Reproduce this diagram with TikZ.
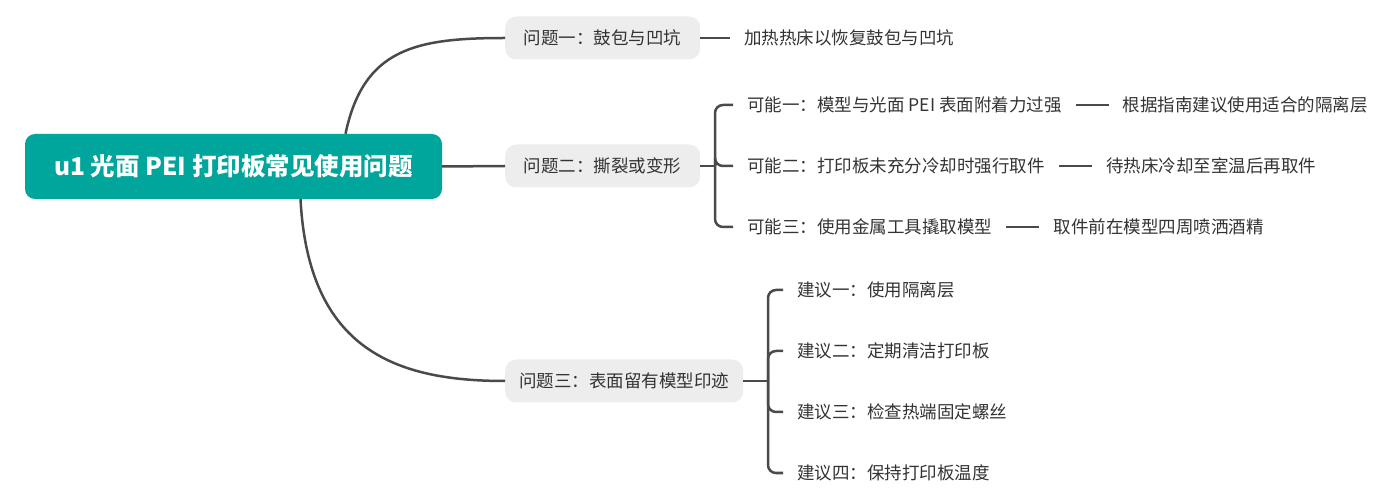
\documentclass[tikz,border=0pt]{standalone}
\usepackage{fontspec}
\setmainfont{Noto Sans CJK SC}
\usepackage{xcolor}
\usepackage{tikz}
\usetikzlibrary{positioning}
\definecolor{rootfill}{HTML}{00A59B}
\definecolor{probfill}{HTML}{EDEDED}
\definecolor{linkcol}{HTML}{4A4A4A}
\definecolor{textcol}{HTML}{333333}
\tikzset{root/.style={rectangle,rounded corners=10pt,fill=rootfill,text=white,font=\fontsize{24.5}{28}\selectfont\bfseries,minimum width=417pt,minimum height=65pt},
prob/.style={rectangle,rounded corners=11pt,fill=probfill,text=textcol,font=\fontsize{17.5}{21}\selectfont,minimum height=43pt,anchor=west},
leaf/.style={text=textcol,font=\fontsize{17.5}{21}\selectfont,inner xsep=14pt,anchor=west},
link/.style={draw=linkcol,line width=2.5pt}}

\begin{document}
\begin{tikzpicture}[x=1pt,y=-1pt]
        \useasboundingbox (0,0) rectangle (1382,502);
        \node[root] (r) at (233.5,166.5) {u1 光面 PEI 打印板常见使用问题};
        \node[prob,minimum width=195pt] (qa) at (505,38) {问题一：鼓包与凹坑};
        \node[prob,minimum width=195pt] (qb) at (505,166) {问题二：撕裂或变形};
        \node[prob,minimum width=238pt] (qc) at (505,381) {问题三：表面留有模型印迹};
        \node[leaf] (qa1) at (730,38) {加热热床以恢复鼓包与凹坑};
        \node[leaf] (qb1) at (733,105) {可能一：模型与光面 PEI 表面附着力过强};
        \node[leaf] (qb2) at (733,166) {可能二：打印板未充分冷却时强行取件};
        \node[leaf] (qb3) at (733,227) {可能三：使用金属工具撬取模型};
        \node[leaf,right=33pt of qb1] (sb1) {根据指南建议使用适合的隔离层};
        \node[leaf,right=33pt of qb2] (sb2) {待热床冷却至室温后再取件};
        \node[leaf,right=33pt of qb3] (sb3) {取件前在模型四周喷洒酒精};
        \node[leaf] (qc1) at (783,290) {建议一：使用隔离层};
        \node[leaf] (qc2) at (783,351) {建议二：定期清洁打印板};
        \node[leaf] (qc3) at (783,412) {建议三：检查热端固定螺丝};
        \node[leaf] (qc4) at (783,473) {建议四：保持打印板温度};
        \coordinate (kb) at (715,166);
        \coordinate (kc) at (768,381);

        \draw [link] ([xshift=112pt]r.north) .. controls +(18,-85) and +(-90,0) .. (qa.west);
        \draw [link] (r.east) -- (qb.west);
        \draw [link] ([xshift=67pt]r.south) .. controls +(8,150) and +(-110,0) .. (qc.west);
        \draw [link] (qa.east) -- (qa1.west);
        \draw [link] (qb.east) -- (kb);
        \draw [link,rounded corners=8pt] (kb) |- (qb1.west);
        \draw [link,rounded corners=8pt] (kb) |- (qb2.west);
        \draw [link,rounded corners=8pt] (kb) |- (qb3.west);
        \draw [link] (qb1.east) -- (sb1.west);
        \draw [link] (qb2.east) -- (sb2.west);
        \draw [link] (qb3.east) -- (sb3.west);
        \draw [link] (qc.east) -- (kc);
        \draw [link,rounded corners=8pt] (kc) |- (qc1.west);
        \draw [link,rounded corners=8pt] (kc) |- (qc2.west);
        \draw [link,rounded corners=8pt] (kc) |- (qc3.west);
        \draw [link,rounded corners=8pt] (kc) |- (qc4.west);
    \end{tikzpicture}
\end{document}
